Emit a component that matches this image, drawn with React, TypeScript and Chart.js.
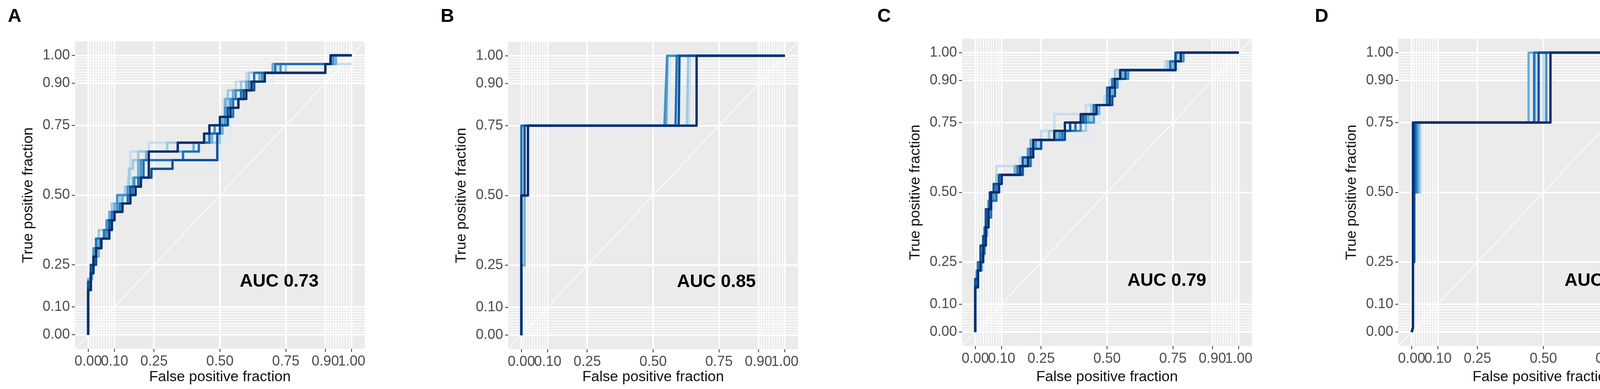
import React, { useEffect, useRef } from 'react';
import { Chart, registerables } from 'chart.js';
Chart.register(...registerables);

// ---------- text / tick data ----------
const PANEL_LETTERS = ['A', 'B', 'C', 'D'];
const AUC_LABELS = ['AUC 0.73', 'AUC 0.85', 'AUC 0.79', 'AUC 0.87'];
const AUC_X = [0.725, 0.74, 0.727, 0.73];
const AUC_Y = [0.195, 0.195, 0.188, 0.188];
const X_TITLE = 'False positive fraction';
const Y_TITLE = 'True positive fraction';
const MAJOR_BREAKS = [0, 0.1, 0.25, 0.5, 0.75, 0.9, 1];
const MAJOR_LABELS = ['0.00', '0.10', '0.25', '0.50', '0.75', '0.90', '1.00'];
const MINOR_BREAKS = [0.01, 0.02, 0.03, 0.04, 0.05, 0.06, 0.07, 0.08, 0.09, 0.91, 0.92, 0.93, 0.94, 0.95, 0.96, 0.97, 0.98, 0.99];
const DIAGONAL = [[-0.05, -0.05], [1.05, 1.05]];
const CURVE_COLORS = ['#DEEBF7', '#C6DBEF', '#9ECAE1', '#6BAED6', '#4292C6', '#2171B5', '#08519C', '#08306B'];

// ---------- ROC curves (FPR, TPR) ----------
// Panel A
const ROC_A0 = [[0,0],[0,0.19],[0.015,0.19],[0.015,0.25],[0.03,0.25],[0.03,0.31],[0.05,0.31],[0.05,0.375],[0.08,0.375],[0.08,0.41],[0.1,0.41],[0.1,0.44],[0.12,0.44],[0.12,0.47],[0.14,0.47],[0.14,0.5],[0.16,0.5],[0.16,0.53],[0.18,0.53],[0.18,0.56],[0.2,0.56],[0.2,0.594],[0.465,0.594],[0.465,0.625],[0.5,0.625],[0.5,0.6875],[0.54,0.6875],[0.54,0.78],[0.55,0.78],[0.55,0.8125],[0.57,0.8125],[0.57,0.844],[0.6,0.844],[0.6,0.875],[0.64,0.875],[0.64,0.906],[0.7,0.906],[0.7,0.969],[1,0.969]];
const ROC_A1 = [[0,0],[0,0.16],[0.01,0.16],[0.01,0.22],[0.02,0.22],[0.02,0.28],[0.035,0.28],[0.035,0.344],[0.06,0.344],[0.06,0.375],[0.085,0.375],[0.085,0.44],[0.11,0.44],[0.11,0.47],[0.13,0.47],[0.13,0.5],[0.15,0.5],[0.15,0.56],[0.16,0.56],[0.16,0.656],[0.23,0.656],[0.23,0.6875],[0.45,0.6875],[0.45,0.72],[0.5,0.72],[0.5,0.75],[0.515,0.75],[0.515,0.844],[0.53,0.844],[0.53,0.875],[0.56,0.875],[0.56,0.906],[0.6,0.906],[0.6,0.9375],[0.72,0.9375],[0.72,0.969],[1,0.969]];
const ROC_A2 = [[0,0],[0,0.19],[0.01,0.19],[0.01,0.25],[0.025,0.25],[0.025,0.31],[0.04,0.31],[0.04,0.375],[0.07,0.375],[0.07,0.41],[0.09,0.41],[0.09,0.47],[0.12,0.47],[0.12,0.5],[0.14,0.5],[0.14,0.53],[0.155,0.53],[0.155,0.594],[0.17,0.594],[0.17,0.625],[0.19,0.625],[0.19,0.656],[0.3,0.656],[0.3,0.6875],[0.5,0.6875],[0.5,0.75],[0.52,0.75],[0.52,0.8125],[0.53,0.8125],[0.53,0.875],[0.58,0.875],[0.58,0.906],[0.61,0.906],[0.61,0.9375],[0.75,0.9375],[0.75,0.969],[0.92,0.969],[0.92,1],[1,1]];
const ROC_A3 = [[0,0],[0,0.2],[0.015,0.2],[0.015,0.25],[0.025,0.25],[0.025,0.28],[0.04,0.28],[0.04,0.344],[0.065,0.344],[0.065,0.375],[0.08,0.375],[0.08,0.44],[0.1,0.44],[0.1,0.47],[0.13,0.47],[0.13,0.5],[0.15,0.5],[0.15,0.53],[0.17,0.53],[0.17,0.5625],[0.19,0.5625],[0.19,0.625],[0.22,0.625],[0.22,0.656],[0.4,0.656],[0.4,0.6875],[0.47,0.6875],[0.47,0.72],[0.51,0.72],[0.51,0.78],[0.52,0.78],[0.52,0.844],[0.55,0.844],[0.55,0.875],[0.6,0.875],[0.6,0.906],[0.65,0.906],[0.65,0.9375],[0.7,0.9375],[0.7,0.969],[0.94,0.969],[0.94,1],[1,1]];
const ROC_A4 = [[0,0],[0,0.17],[0.01,0.17],[0.01,0.25],[0.02,0.25],[0.02,0.31],[0.045,0.31],[0.045,0.344],[0.07,0.344],[0.07,0.41],[0.09,0.41],[0.09,0.44],[0.11,0.44],[0.11,0.5],[0.15,0.5],[0.15,0.53],[0.175,0.53],[0.175,0.5625],[0.2,0.5625],[0.2,0.625],[0.23,0.625],[0.23,0.656],[0.34,0.656],[0.34,0.6875],[0.44,0.6875],[0.44,0.72],[0.48,0.72],[0.48,0.75],[0.52,0.75],[0.52,0.8125],[0.54,0.8125],[0.54,0.844],[0.56,0.844],[0.56,0.875],[0.61,0.875],[0.61,0.906],[0.66,0.906],[0.66,0.9375],[0.73,0.9375],[0.73,0.969],[0.93,0.969],[0.93,1],[1,1]];
const ROC_A5 = [[0,0],[0,0.16],[0.01,0.16],[0.01,0.22],[0.02,0.22],[0.02,0.28],[0.03,0.28],[0.03,0.344],[0.06,0.344],[0.06,0.375],[0.09,0.375],[0.09,0.44],[0.12,0.44],[0.12,0.47],[0.15,0.47],[0.15,0.5],[0.17,0.5],[0.17,0.53],[0.19,0.53],[0.19,0.5625],[0.21,0.5625],[0.21,0.625],[0.36,0.625],[0.36,0.656],[0.42,0.656],[0.42,0.6875],[0.46,0.6875],[0.46,0.72],[0.5,0.72],[0.5,0.75],[0.53,0.75],[0.53,0.78],[0.55,0.78],[0.55,0.844],[0.58,0.844],[0.58,0.875],[0.62,0.875],[0.62,0.906],[0.63,0.906],[0.63,0.9375],[0.71,0.9375],[0.71,0.969],[0.92,0.969],[0.92,1],[1,1]];
const ROC_A6 = [[0,0],[0,0.19],[0.01,0.19],[0.01,0.25],[0.03,0.25],[0.03,0.31],[0.05,0.31],[0.05,0.344],[0.08,0.344],[0.08,0.41],[0.1,0.41],[0.1,0.44],[0.13,0.44],[0.13,0.47],[0.16,0.47],[0.16,0.53],[0.2,0.53],[0.2,0.5625],[0.24,0.5625],[0.24,0.594],[0.32,0.594],[0.32,0.625],[0.49,0.625],[0.49,0.72],[0.5,0.72],[0.5,0.75],[0.53,0.75],[0.53,0.8125],[0.57,0.8125],[0.57,0.844],[0.59,0.844],[0.59,0.875],[0.63,0.875],[0.63,0.906],[0.67,0.906],[0.67,0.9375],[0.9,0.9375],[0.9,0.969],[0.92,0.969],[0.92,1],[1,1]];
const ROC_A7 = [[0,0],[0,0.16],[0.01,0.16],[0.01,0.22],[0.02,0.22],[0.02,0.28],[0.03,0.28],[0.03,0.31],[0.05,0.31],[0.05,0.344],[0.08,0.344],[0.08,0.375],[0.09,0.375],[0.09,0.41],[0.1,0.41],[0.1,0.44],[0.13,0.44],[0.13,0.47],[0.16,0.47],[0.16,0.5],[0.18,0.5],[0.18,0.53],[0.2,0.53],[0.2,0.5625],[0.23,0.5625],[0.23,0.656],[0.34,0.656],[0.34,0.6875],[0.44,0.6875],[0.44,0.72],[0.46,0.72],[0.46,0.75],[0.5,0.75],[0.5,0.78],[0.54,0.78],[0.54,0.8125],[0.57,0.8125],[0.57,0.844],[0.6,0.844],[0.6,0.875],[0.62,0.875],[0.62,0.906],[0.67,0.906],[0.67,0.9375],[0.9,0.9375],[0.9,0.969],[0.92,0.969],[0.92,1],[1,1]];

// Panel B
const ROC_B0 = [[0,0],[0,0.75],[0.56,0.75],[0.565,1],[1,1]];
const ROC_B1 = [[0,0],[0,0.5],[0.012,0.5],[0.012,0.75],[0.635,0.75],[0.64,1],[1,1]];
const ROC_B2 = [[0,0],[0,0.5],[0.025,0.5],[0.025,0.75],[0.628,0.75],[0.633,1],[1,1]];
const ROC_B3 = [[0,0],[0,0.25],[0.012,0.25],[0.012,0.75],[0.55,0.75],[0.555,1],[1,1]];
const ROC_B4 = [[0,0],[0,0.5],[0.025,0.5],[0.025,0.75],[0.543,0.75],[0.553,1],[1,1]];
const ROC_B5 = [[0,0],[0,0.75],[0.585,0.75],[0.59,1],[1,1]];
const ROC_B6 = [[0,0],[0,0.5],[0.012,0.5],[0.012,0.75],[0.597,0.75],[0.6,1],[1,1]];
const ROC_B7 = [[0,0],[0,0.5],[0.025,0.5],[0.025,0.75],[0.665,0.75],[0.665,1],[1,1]];

// Panel C
const ROC_C0 = [[0,0],[0,0.19],[0.01,0.19],[0.01,0.25],[0.025,0.25],[0.025,0.28],[0.035,0.28],[0.035,0.375],[0.05,0.375],[0.05,0.44],[0.07,0.44],[0.07,0.5],[0.1,0.5],[0.1,0.53],[0.11,0.53],[0.11,0.5625],[0.19,0.5625],[0.19,0.594],[0.22,0.594],[0.22,0.656],[0.25,0.656],[0.25,0.6875],[0.43,0.6875],[0.43,0.75],[0.47,0.75],[0.47,0.78],[0.48,0.78],[0.48,0.8125],[0.52,0.8125],[0.52,0.875],[0.55,0.875],[0.55,0.906],[0.57,0.906],[0.57,0.9375],[0.77,0.9375],[0.77,1],[1,1]];
const ROC_C1 = [[0,0],[0,0.16],[0.005,0.16],[0.005,0.22],[0.02,0.22],[0.02,0.28],[0.03,0.28],[0.03,0.344],[0.045,0.344],[0.045,0.41],[0.055,0.41],[0.055,0.47],[0.07,0.47],[0.07,0.53],[0.08,0.53],[0.08,0.594],[0.17,0.594],[0.17,0.625],[0.2,0.625],[0.2,0.656],[0.22,0.656],[0.22,0.6875],[0.25,0.6875],[0.25,0.72],[0.3,0.72],[0.3,0.78],[0.42,0.78],[0.42,0.8125],[0.49,0.8125],[0.49,0.844],[0.51,0.844],[0.51,0.906],[0.54,0.906],[0.54,0.9375],[0.72,0.9375],[0.72,0.969],[0.76,0.969],[0.76,1],[1,1]];
const ROC_C2 = [[0,0],[0,0.19],[0.01,0.19],[0.01,0.25],[0.02,0.25],[0.02,0.31],[0.04,0.31],[0.04,0.41],[0.05,0.41],[0.05,0.47],[0.065,0.47],[0.065,0.5],[0.08,0.5],[0.08,0.5625],[0.18,0.5625],[0.18,0.594],[0.19,0.594],[0.19,0.625],[0.21,0.625],[0.21,0.656],[0.24,0.656],[0.24,0.6875],[0.28,0.6875],[0.28,0.72],[0.42,0.72],[0.42,0.75],[0.44,0.75],[0.44,0.8125],[0.5,0.8125],[0.5,0.875],[0.53,0.875],[0.53,0.9375],[0.73,0.9375],[0.73,0.969],[0.77,0.969],[0.77,1],[1,1]];
const ROC_C3 = [[0,0],[0,0.16],[0.01,0.16],[0.01,0.22],[0.025,0.22],[0.025,0.28],[0.035,0.28],[0.035,0.344],[0.045,0.344],[0.045,0.44],[0.06,0.44],[0.06,0.5],[0.09,0.5],[0.09,0.5625],[0.15,0.5625],[0.15,0.594],[0.19,0.594],[0.19,0.625],[0.21,0.625],[0.21,0.6875],[0.31,0.6875],[0.31,0.72],[0.36,0.72],[0.36,0.75],[0.43,0.75],[0.43,0.78],[0.47,0.78],[0.47,0.8125],[0.5,0.8125],[0.5,0.844],[0.52,0.844],[0.52,0.906],[0.56,0.906],[0.56,0.9375],[0.75,0.9375],[0.75,0.969],[0.78,0.969],[0.78,1],[1,1]];
const ROC_C4 = [[0,0],[0,0.19],[0.005,0.19],[0.005,0.22],[0.015,0.22],[0.015,0.25],[0.03,0.25],[0.03,0.31],[0.04,0.31],[0.04,0.375],[0.05,0.375],[0.05,0.47],[0.07,0.47],[0.07,0.53],[0.1,0.53],[0.1,0.5625],[0.17,0.5625],[0.17,0.594],[0.2,0.594],[0.2,0.656],[0.23,0.656],[0.23,0.6875],[0.32,0.6875],[0.32,0.72],[0.4,0.72],[0.4,0.75],[0.45,0.75],[0.45,0.8125],[0.51,0.8125],[0.51,0.875],[0.54,0.875],[0.54,0.906],[0.58,0.906],[0.58,0.9375],[0.76,0.9375],[0.76,0.969],[0.79,0.969],[0.79,1],[1,1]];
const ROC_C5 = [[0,0],[0,0.16],[0.01,0.16],[0.01,0.25],[0.02,0.25],[0.02,0.28],[0.035,0.28],[0.035,0.375],[0.05,0.375],[0.05,0.41],[0.06,0.41],[0.06,0.47],[0.08,0.47],[0.08,0.53],[0.1,0.53],[0.1,0.5625],[0.16,0.5625],[0.16,0.594],[0.21,0.594],[0.21,0.625],[0.22,0.625],[0.22,0.6875],[0.33,0.6875],[0.33,0.72],[0.38,0.72],[0.38,0.75],[0.42,0.75],[0.42,0.78],[0.45,0.78],[0.45,0.8125],[0.5,0.8125],[0.5,0.875],[0.52,0.875],[0.52,0.906],[0.55,0.906],[0.55,0.9375],[0.74,0.9375],[0.74,0.969],[0.76,0.969],[0.76,1],[1,1]];
const ROC_C6 = [[0,0],[0,0.19],[0.01,0.19],[0.01,0.22],[0.02,0.22],[0.02,0.31],[0.03,0.31],[0.03,0.344],[0.04,0.344],[0.04,0.44],[0.055,0.44],[0.055,0.5],[0.07,0.5],[0.07,0.53],[0.09,0.53],[0.09,0.5625],[0.18,0.5625],[0.18,0.625],[0.21,0.625],[0.21,0.656],[0.25,0.656],[0.25,0.6875],[0.34,0.6875],[0.34,0.72],[0.36,0.72],[0.36,0.75],[0.41,0.75],[0.41,0.78],[0.46,0.78],[0.46,0.8125],[0.52,0.8125],[0.52,0.844],[0.53,0.844],[0.53,0.906],[0.57,0.906],[0.57,0.9375],[0.76,0.9375],[0.76,1],[1,1]];
const ROC_C7 = [[0,0],[0,0.16],[0.01,0.16],[0.01,0.22],[0.02,0.22],[0.02,0.25],[0.03,0.25],[0.03,0.31],[0.04,0.31],[0.04,0.375],[0.05,0.375],[0.05,0.44],[0.06,0.44],[0.06,0.5],[0.09,0.5],[0.09,0.53],[0.1,0.53],[0.1,0.5625],[0.17,0.5625],[0.17,0.594],[0.2,0.594],[0.2,0.625],[0.22,0.625],[0.22,0.6875],[0.3,0.6875],[0.3,0.72],[0.34,0.72],[0.34,0.75],[0.4,0.75],[0.4,0.78],[0.46,0.78],[0.46,0.8125],[0.51,0.8125],[0.51,0.875],[0.53,0.875],[0.53,0.906],[0.55,0.906],[0.55,0.9375],[0.76,0.9375],[0.76,0.969],[0.78,0.969],[0.78,1],[1,1]];

// Panel D
const ROC_D0 = [[0,0],[0.005,0.015],[0.005,0.5],[0.036,0.5],[0.036,0.75],[0.454,0.75],[0.454,1],[1,1]];
const ROC_D1 = [[0,0],[0.005,0.015],[0.005,0.5],[0.033,0.5],[0.033,0.75],[0.5,0.75],[0.5,1],[1,1]];
const ROC_D2 = [[0,0],[0.005,0.015],[0.005,0.5],[0.03,0.5],[0.03,0.75],[0.47,0.75],[0.47,1],[1,1]];
const ROC_D3 = [[0,0],[0.005,0.015],[0.005,0.5],[0.025,0.5],[0.025,0.75],[0.444,0.75],[0.444,1],[1,1]];
const ROC_D4 = [[0,0],[0.005,0.015],[0.005,0.5],[0.02,0.5],[0.02,0.75],[0.511,0.75],[0.511,1],[1,1]];
const ROC_D5 = [[0,0],[0.005,0.015],[0.005,0.5],[0.015,0.5],[0.015,0.75],[0.465,0.75],[0.465,1],[1,1]];
const ROC_D6 = [[0,0],[0.005,0.015],[0.005,0.25],[0.01,0.25],[0.01,0.75],[0.482,0.75],[0.482,1],[1,1]];
const ROC_D7 = [[0,0],[0.005,0.015],[0.005,0.75],[0.527,0.75],[0.527,1],[1,1]];

const PANEL_CURVES = [
  [ROC_A0, ROC_A1, ROC_A2, ROC_A3, ROC_A4, ROC_A5, ROC_A6, ROC_A7],
  [ROC_B0, ROC_B1, ROC_B2, ROC_B3, ROC_B4, ROC_B5, ROC_B6, ROC_B7],
  [ROC_C0, ROC_C1, ROC_C2, ROC_C3, ROC_C4, ROC_C5, ROC_C6, ROC_C7],
  [ROC_D0, ROC_D1, ROC_D2, ROC_D3, ROC_D4, ROC_D5, ROC_D6, ROC_D7],
];

// ---------- layout (pixels) ----------
const FIG_W = 4348;
const FIG_H = 996;
const CANVAS_W = 1087;
const PLOT_W = 742;
const PLOT_H = 787;
const PANEL_LAYOUT = [
  { canvasLeft: 0, plotLeft: 192, plotTop: 106, letterX: 20 },
  { canvasLeft: 1087, plotLeft: 1301, plotTop: 107, letterX: 1128 },
  { canvasLeft: 2174, plotLeft: 2463, plotTop: 99, letterX: 2246 },
  { canvasLeft: 3261, plotLeft: 3580, plotTop: 99, letterX: 3366 },
];
const FONT_FAMILY = "'Liberation Sans', Arial, Helvetica, sans-serif";
const TICK_FONT = 36;
const TITLE_FONT = 37.5;
const CURVE_WIDTH = 6;

const isMajor = (v: number | undefined) =>
  v !== undefined && MAJOR_BREAKS.some((b) => Math.abs(b - v) < 1e-9);

const buildTicks = (scale: any) => {
  const vals = [...MAJOR_BREAKS, ...MINOR_BREAKS].sort((a, b) => a - b);
  scale.ticks = vals.map((v) => ({ value: v }));
};

const tickLabel = (v: any) => {
  const i = MAJOR_BREAKS.findIndex((b) => Math.abs(b - Number(v)) < 1e-9);
  return i >= 0 ? MAJOR_LABELS[i] : '';
};

function Panel({ idx }: { idx: number }) {
  const ref = useRef<HTMLCanvasElement | null>(null);
  const lay = PANEL_LAYOUT[idx];
  useEffect(() => {
    if (!ref.current) return;
    const plotLeftRel = lay.plotLeft - lay.canvasLeft;
    const rightPad = CANVAS_W - (plotLeftRel + PLOT_W);
    const xAxisH = FIG_H - (lay.plotTop + PLOT_H);
    const curves = PANEL_CURVES[idx];

    const datasets: any[] = curves.map((pts, i) => ({
      data: pts.map(([x, y]) => ({ x, y })),
      borderColor: CURVE_COLORS[i],
      backgroundColor: CURVE_COLORS[i],
      borderWidth: CURVE_WIDTH,
      pointRadius: 0,
      showLine: true,
      fill: false,
      tension: 0,
      borderJoinStyle: 'round',
      borderCapStyle: 'butt',
      order: 50 - i,
    }));
    datasets.push({
      data: DIAGONAL.map(([x, y]) => ({ x, y })),
      borderColor: '#FFFFFF',
      borderWidth: 2,
      pointRadius: 0,
      showLine: true,
      fill: false,
      order: 100,
    });

    const deco = {
      id: 'panelDeco',
      beforeDraw(chart: any) {
        const { ctx, chartArea } = chart;
        ctx.save();
        ctx.fillStyle = '#EBEBEB';
        ctx.fillRect(chartArea.left, chartArea.top, chartArea.right - chartArea.left, chartArea.bottom - chartArea.top);
        ctx.restore();
      },
      afterDraw(chart: any) {
        const { ctx } = chart;
        ctx.save();
        ctx.fillStyle = '#000000';
        ctx.font = `bold 48px ${FONT_FAMILY}`;
        ctx.textAlign = 'left';
        ctx.textBaseline = 'alphabetic';
        ctx.fillText(PANEL_LETTERS[idx], lay.letterX - lay.canvasLeft, 56);
        const xs = chart.scales.x;
        const ys = chart.scales.y;
        ctx.font = `bold 46px ${FONT_FAMILY}`;
        ctx.textAlign = 'center';
        ctx.fillText(AUC_LABELS[idx], xs.getPixelForValue(AUC_X[idx]), ys.getPixelForValue(AUC_Y[idx]) + 16.5);
        ctx.restore();
      },
    };

    const gridOpts = {
      color: '#FFFFFF',
      lineWidth: (c: any) => (isMajor(c.tick?.value) ? 4 : 2),
      drawTicks: true,
      tickLength: 8,
      tickWidth: 2,
      tickColor: (c: any) => (isMajor(c.tick?.value) ? '#333333' : 'rgba(0,0,0,0)'),
    };

    const chart = new Chart(ref.current, {
      type: 'scatter',
      data: { datasets },
      plugins: [deco],
      options: {
        responsive: false,
        maintainAspectRatio: false,
        animation: false,
        devicePixelRatio: 1,
        layout: { padding: { left: 0, right: rightPad, top: lay.plotTop, bottom: 0 } },
        plugins: { legend: { display: false }, tooltip: { enabled: false } },
        scales: {
          x: {
            type: 'linear',
            position: 'bottom',
            min: -0.05,
            max: 1.05,
            afterBuildTicks: buildTicks,
            afterFit: (s: any) => { s.height = xAxisH; },
            grid: gridOpts as any,
            border: { display: false },
            ticks: {
              autoSkip: false,
              maxRotation: 0,
              minRotation: 0,
              padding: 3,
              color: '#4D4D4D',
              font: { family: FONT_FAMILY, size: TICK_FONT },
              callback: tickLabel,
            },
            title: {
              display: true,
              text: X_TITLE,
              color: '#111111',
              font: { family: FONT_FAMILY, size: TITLE_FONT },
              padding: { top: 7.5, bottom: 7.5 },
            },
          },
          y: {
            type: 'linear',
            position: 'left',
            min: -0.05,
            max: 1.05,
            afterBuildTicks: buildTicks,
            afterFit: (s: any) => { s.width = plotLeftRel; },
            grid: gridOpts as any,
            border: { display: false },
            ticks: {
              autoSkip: false,
              padding: 5,
              color: '#4D4D4D',
              font: { family: FONT_FAMILY, size: TICK_FONT },
              callback: tickLabel,
            },
            title: {
              display: true,
              text: Y_TITLE,
              color: '#111111',
              font: { family: FONT_FAMILY, size: TITLE_FONT },
              padding: { top: plotLeftRel - 119 - 22.5, bottom: plotLeftRel - 119 - 22.5 },
            },
          },
        },
      } as any,
    });
    return () => chart.destroy();
  }, [idx]);

  return (
    <canvas
      ref={ref}
      width={CANVAS_W}
      height={FIG_H}
      style={{ position: 'absolute', left: lay.canvasLeft, top: 0, width: CANVAS_W, height: FIG_H }}
    />
  );
}

export default function App() {
  return (
    <div style={{ position: 'absolute', left: 0, top: 0, width: FIG_W, height: FIG_H, background: '#FFFFFF', overflow: 'hidden' }}>
      {PANEL_LAYOUT.map((_, i) => (
        <Panel key={i} idx={i} />
      ))}
    </div>
  );
}
